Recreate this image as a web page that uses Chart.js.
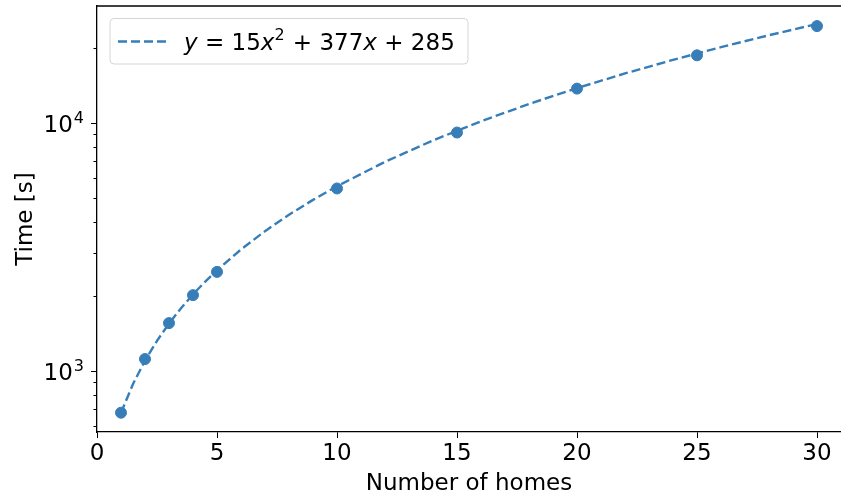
<!DOCTYPE html>
<html>
<head>
<meta charset="utf-8">
<script src="https://cdn.jsdelivr.net/npm/chart.js@4/dist/chart.umd.min.js"></script>
<style>
  body { margin: 0; background: #fff; overflow: hidden; }
  canvas { display: block; }
</style>
</head>
<body>
<canvas id="timeChart" width="841" height="498"></canvas>
<script>
// measured run times
const homes = [1, 2, 3, 4, 5, 10, 15, 20, 25, 30];
const times = [677, 1115, 1557, 2019, 2506, 5440, 9150, 13760, 18750, 24600];

// dashed fit curve y = 15x^2 + 377x + 285, sampled values
const fitX = [1, 1.5, 2, 2.5, 3, 3.5, 4, 4.5, 5, 6, 7, 8, 9, 10, 12, 14, 16, 18, 20, 22, 24, 26, 28, 30];
const fitY = [677, 884, 1099, 1321, 1551, 1788, 2033, 2285, 2545, 3087, 3659, 4261, 4893, 5555,
              6969, 8503, 10157, 11931, 13825, 15839, 17973, 20227, 22601, 25095];

const xTicks = [0, 5, 10, 15, 20, 25, 30];
const yTicks = [600, 700, 800, 900, 1000, 2000, 3000, 4000, 5000, 6000, 7000, 8000, 9000, 10000, 20000];
const yMajor = { 1000: '3', 10000: '4' };   // exponent of 10

const blue = '#377eb8';
const fontFamily = '"DejaVu Sans", sans-serif';
const fontSize = 23;

// legend text: [text, italic, superscript]
const legendParts = [
    ['y', true, false], [' = 15', false, false], ['x', true, false], ['2', false, true],
    [' + 377', false, false], ['x', true, false], [' + 285', false, false]
];

const extrasPlugin = {
    id: 'extras',
    afterDraw(chart) {
        const ctx = chart.ctx;
        const area = chart.chartArea;
        const y = chart.scales.y;
        ctx.save();
        // top spine
        ctx.strokeStyle = '#000';
        ctx.lineWidth = 1.3;
        ctx.beginPath();
        ctx.moveTo(area.left, area.top);
        ctx.lineTo(area.right, area.top);
        ctx.stroke();
        // y ticks, major and minor, plus 10^n labels
        ctx.lineWidth = 1;
        ctx.fillStyle = '#000';
        yTicks.forEach(v => {
            const py = Math.round(y.getPixelForValue(v)) + 0.5;
            const len = yMajor[v] ? 6 : 3.5;
            ctx.beginPath();
            ctx.moveTo(area.left - len, py);
            ctx.lineTo(area.left, py);
            ctx.stroke();
            if (yMajor[v]) {
                ctx.textBaseline = 'alphabetic';
                ctx.textAlign = 'right';
                ctx.font = '16px ' + fontFamily;
                const ew = ctx.measureText(yMajor[v]).width;
                ctx.fillText(yMajor[v], area.left - 13, py - 1);
                ctx.font = fontSize + 'px ' + fontFamily;
                ctx.fillText('10', area.left - 14 - ew, py + 8.5);
            }
        });

        // legend box
        const bx = 110, by = 18.5, bw = 358, bh = 45.5;
        ctx.textAlign = 'left';
        ctx.fillStyle = 'rgba(255,255,255,0.8)';
        ctx.strokeStyle = '#d5d5d5';
        ctx.lineWidth = 1;
        ctx.beginPath();
        ctx.roundRect(bx, by, bw, bh, 4);
        ctx.fill();
        ctx.stroke();
        ctx.strokeStyle = blue;
        ctx.lineWidth = 2.4;
        ctx.setLineDash([9, 4]);
        ctx.beginPath();
        ctx.moveTo(118, 41.5);
        ctx.lineTo(166, 41.5);
        ctx.stroke();
        ctx.setLineDash([]);
        ctx.fillStyle = '#000';
        ctx.textBaseline = 'alphabetic';
        let tx = 184;
        legendParts.forEach(([t, it, sup]) => {
            ctx.font = (it ? 'italic ' : '') + (sup ? 16 : fontSize) + 'px ' + fontFamily;
            ctx.fillText(t, tx, sup ? 40 : 50);
            tx += ctx.measureText(t).width + (sup ? 1 : 0);
        });
        ctx.restore();
    }
};

new Chart(document.getElementById('timeChart'), {
    type: 'scatter',
    data: {
        datasets: [{
            label: 'measured',
            data: homes.map((h, i) => ({ x: h, y: times[i] })),
            backgroundColor: blue,
            borderColor: blue,
            pointRadius: 5.5,
            pointHoverRadius: 5.5,
            showLine: false
        }, {
            label: 'y = 15x² + 377x + 285',
            data: fitX.map((h, i) => ({ x: h, y: fitY[i] })),
            borderColor: blue,
            borderWidth: 2.4,
            borderDash: [9, 4],
            pointRadius: 0,
            showLine: true,
            fill: false
        }]
    },
    options: {
        responsive: false,
        animation: false,
        devicePixelRatio: 1,
        layout: { autoPadding: false, padding: { top: 6, right: 0, left: 0, bottom: 0 } },
        plugins: { legend: { display: false }, tooltip: { enabled: false } },
        scales: {
            x: {
                type: 'linear',
                min: 0,
                max: 31,
                afterFit: s => { s.height = 66; },
                afterBuildTicks: s => { s.ticks = xTicks.map(v => ({ value: v })); },
                grid: { drawOnChartArea: false, tickLength: 6, tickColor: '#000', tickWidth: 1 },
                border: { color: '#000', width: 1.3 },
                ticks: { color: '#000', padding: 2, font: { family: fontFamily, size: fontSize }, maxRotation: 0 },
                title: { display: true, text: 'Number of homes', color: '#000',
                         font: { family: fontFamily, size: fontSize }, padding: { top: 0, bottom: 0 } }
            },
            y: {
                type: 'logarithmic',
                min: 566,
                max: 29650,
                afterFit: s => { s.width = 97; },
                afterBuildTicks: s => { s.ticks = yTicks.map(v => ({ value: v })); },
                grid: { drawOnChartArea: false, drawTicks: false },
                border: { color: '#000', width: 1.3 },
                ticks: { display: false },
                title: { display: true, text: 'Time [s]', color: '#000',
                         font: { family: fontFamily, size: fontSize }, padding: { top: 12, bottom: 0 } }
            }
        }
    },
    plugins: [extrasPlugin]
});
</script>
</body>
</html>
